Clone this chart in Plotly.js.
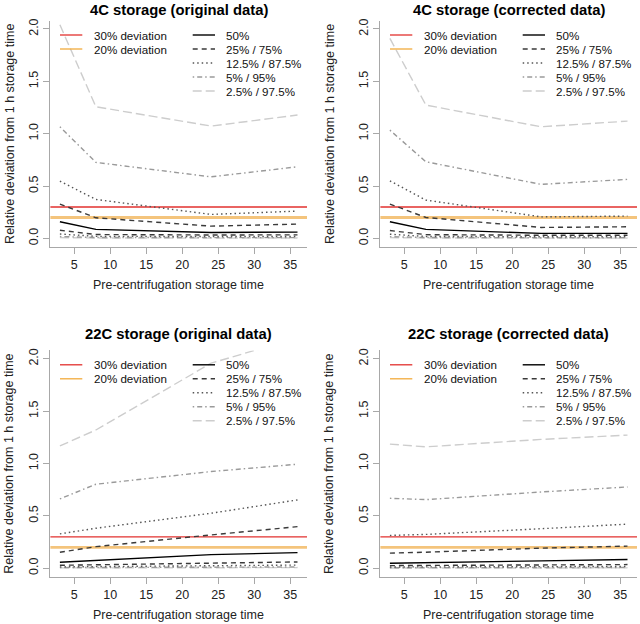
<!DOCTYPE html>
<html>
<head>
<meta charset="utf-8">
<script src="https://cdn.plot.ly/plotly-3.0.1.min.js"></script>
<style>
  body { margin: 0; background: #fff; }
  #chart { width: 640px; height: 624px; }
</style>
</head>
<body>
<div id="chart"></div>
<script>
// pre-centrifugation storage times (h)
const storageHours = [3, 8, 24, 36];

const panelTitles = [
    "4C storage (original data)", "4C storage (corrected data)",
    "22C storage (original data)", "22C storage (corrected data)"
];
const quantileLabels = ["50%", "25% / 75%", "12.5% / 87.5%", "5% / 95%", "2.5% / 97.5%"];
const refLabels = ["30% deviation", "20% deviation"];
const refLevels = [0.3, 0.2];

// 4C, original data
const c4orig_q500 = [0.159, 0.086, 0.057, 0.060];
const c4orig_q750 = [0.328, 0.197, 0.117, 0.137];
const c4orig_q875 = [0.547, 0.372, 0.229, 0.261];
const c4orig_q950 = [1.066, 0.726, 0.588, 0.684];
const c4orig_q975 = [2.040, 1.257, 1.073, 1.178];
const c4orig_q250 = [0.078, 0.037, 0.033, 0.034];
const c4orig_q125 = [0.042, 0.020, 0.018, 0.018];
const c4orig_q050 = [0.018, 0.009, 0.008, 0.008];
const c4orig_q025 = [0.008, 0.004, 0.003, 0.004];

// 4C, corrected data
const c4corr_q500 = [0.159, 0.086, 0.048, 0.048];
const c4corr_q750 = [0.328, 0.200, 0.105, 0.111];
const c4corr_q875 = [0.550, 0.366, 0.206, 0.213];
const c4corr_q950 = [1.034, 0.732, 0.516, 0.564];
const c4corr_q975 = [1.910, 1.273, 1.066, 1.120];
const c4corr_q250 = [0.075, 0.036, 0.030, 0.030];
const c4corr_q125 = [0.040, 0.019, 0.016, 0.016];
const c4corr_q050 = [0.017, 0.009, 0.007, 0.007];
const c4corr_q025 = [0.008, 0.004, 0.003, 0.003];

// 22C, original data
const c22orig_q500 = [0.057, 0.073, 0.130, 0.149];
const c22orig_q750 = [0.153, 0.206, 0.318, 0.397];
const c22orig_q875 = [0.328, 0.382, 0.525, 0.652];
const c22orig_q950 = [0.662, 0.802, 0.923, 0.993];
const c22orig_q975 = [1.168, 1.320, 1.958, 2.200];
const c22orig_q250 = [0.028, 0.032, 0.050, 0.060];
const c22orig_q125 = [0.013, 0.015, 0.025, 0.030];
const c22orig_q050 = [0.006, 0.007, 0.010, 0.012];
const c22orig_q025 = [0.003, 0.003, 0.005, 0.006];

// 22C, corrected data
const c22corr_q500 = [0.048, 0.052, 0.070, 0.083];
const c22corr_q750 = [0.144, 0.153, 0.192, 0.211];
const c22corr_q875 = [0.313, 0.323, 0.377, 0.421];
const c22corr_q950 = [0.668, 0.655, 0.728, 0.776];
const c22corr_q975 = [1.185, 1.159, 1.230, 1.271];
const c22corr_q250 = [0.025, 0.026, 0.030, 0.035];
const c22corr_q125 = [0.012, 0.012, 0.015, 0.017];
const c22corr_q050 = [0.005, 0.005, 0.006, 0.007];
const c22corr_q025 = [0.002, 0.002, 0.003, 0.003];

// upper / lower quantile per line style, per panel
const panelUpper = [
    [c4orig_q500, c4orig_q750, c4orig_q875, c4orig_q950, c4orig_q975],
    [c4corr_q500, c4corr_q750, c4corr_q875, c4corr_q950, c4corr_q975],
    [c22orig_q500, c22orig_q750, c22orig_q875, c22orig_q950, c22orig_q975],
    [c22corr_q500, c22corr_q750, c22corr_q875, c22corr_q950, c22corr_q975]
];
const panelLower = [
    [null, c4orig_q250, c4orig_q125, c4orig_q050, c4orig_q025],
    [null, c4corr_q250, c4corr_q125, c4corr_q050, c4corr_q025],
    [null, c22orig_q250, c22orig_q125, c22orig_q050, c22orig_q025],
    [null, c22corr_q250, c22corr_q125, c22corr_q050, c22corr_q025]
];

const lineColors = ["#000000", "#3a3a3a", "#555555", "#9a9a9a", "#cdcdcd"];
const lineDashes = ["solid", "5px,4px", "1.5px,3px", "1.5px,3px,5px,3px", "9px,4px"];
const refColors = ["#e2302e", "#f2aa3c"];
const refPlotColors = ["#e2302e", "#f4c47c"];

const FONT = "Liberation Sans, Arial, Helvetica, sans-serif";

// R style axis extension (4%)
const xMin = Math.min(...storageHours), xMax = Math.max(...storageHours);
const xPad = 0.04 * (xMax - xMin);
const xRange = [xMin - xPad, xMax + xPad];
const yRange = [-0.08, 2.08];

// panel layout in pixels: [left, top] of plot region, sizes, and text offsets
const W = 640, H = 624;
const plotW = 256.6, plotH = 226.2;
const panelBox = [[50.4, 20.6], [380.4, 20.6], [50.4, 350.4], [380.4, 350.4]];
const titleAbove = [10.6, 10.6, 16.6, 16.6];
const ytitleLeft = [41.2, 51, 41.2, 51];

let traces = [];
let shapes = [];
let annotations = [];
let layout = {
    width: W, height: H,
    margin: {l: 0, r: 0, t: 0, b: 0},
    paper_bgcolor: "#fff", plot_bgcolor: "#fff",
    showlegend: false,
    font: {family: FONT, size: 12.3, color: "#222"}
};

panelTitles.forEach((title, p) => {
    const s = p === 0 ? "" : String(p + 1);
    const [left, top] = panelBox[p];
    const xd = [left / W, (left + plotW) / W];
    const yd = [1 - (top + plotH) / H, 1 - top / H];

    layout["xaxis" + s] = {
        domain: xd, anchor: "y" + s, range: xRange,
        tickvals: [5, 10, 15, 20, 25, 30, 35],
        ticks: "outside", ticklen: 6, tickcolor: "#a8a8a8",
        showline: true, linecolor: "#a8a8a8", linewidth: 1,
        showgrid: false, zeroline: false,
        tickfont: {family: FONT, size: 12.5, color: "#222"}
    };
    layout["yaxis" + s] = {
        domain: yd, anchor: "x" + s, range: yRange,
        tickvals: [0, 0.5, 1, 1.5, 2], tickformat: ".1f", tickangle: -90,
        ticks: "outside", ticklen: 6, tickcolor: "#a8a8a8",
        showline: true, linecolor: "#a8a8a8", linewidth: 1,
        showgrid: false, zeroline: false,
        tickfont: {family: FONT, size: 12.5, color: "#222"}
    };

    // reference deviation lines
    refLevels.forEach((lvl, r) => {
        shapes.push({
            type: "line", layer: "below",
            xref: "x" + s + " domain", yref: "y" + s,
            x0: 0, x1: 1, y0: lvl, y1: lvl,
            line: {color: refPlotColors[r], width: r === 0 ? 1.3 : 2.8}
        });
    });

    // quantile lines, widest band first
    for (let k = 4; k >= 0; k--) {
        [panelUpper[p][k], panelLower[p][k]].forEach(vals => {
            if (!vals) return;
            traces.push({
                x: storageHours, y: vals,
                xaxis: "x" + s, yaxis: "y" + s,
                type: "scatter", mode: "lines",
                line: {color: lineColors[k], dash: lineDashes[k], width: 1.4},
                hoverinfo: "skip"
            });
        });
    }

    // panel texts
    const ax = "x" + s + " domain", ay = "y" + s + " domain";
    annotations.push({
        text: "<b>" + title + "</b>", xref: ax, yref: ay,
        x: 0.5, y: 1 + titleAbove[p] / plotH, showarrow: false,
        xanchor: "center", yanchor: "middle",
        font: {family: FONT, size: 14.8, color: "#000"}
    });
    annotations.push({
        text: "Pre-centrifugation storage time", xref: ax, yref: ay,
        x: 0.5, y: -38 / plotH, showarrow: false,
        xanchor: "center", yanchor: "middle",
        font: {family: FONT, size: 12.5, color: "#222"}
    });
    annotations.push({
        text: "Relative deviation from 1 h storage time", xref: ax, yref: ay,
        x: -ytitleLeft[p] / plotW, y: 0.5, showarrow: false, textangle: -90,
        xanchor: "center", yanchor: "middle",
        font: {family: FONT, size: 12.5, color: "#222"}
    });

    // legend, two columns
    const rowY = i => 1 - (14.4 + 14 * i) / plotH;
    const legItem = (x0, x1, xt, i, label, color, dash, width) => {
        shapes.push({
            type: "line", xref: ax, yref: ay,
            x0: x0 / plotW, x1: x1 / plotW, y0: rowY(i), y1: rowY(i),
            line: {color: color, dash: dash, width: width}
        });
        annotations.push({
            text: label, xref: ax, yref: ay, x: xt / plotW, y: rowY(i),
            showarrow: false, xanchor: "left", yanchor: "middle",
            font: {family: FONT, size: 11.6, color: "#111"}
        });
    };
    refLabels.forEach((lab, r) => legItem(9.6, 31.9, 41.5, r, lab, refColors[r], "solid", 1.3));
    quantileLabels.forEach((lab, k) => legItem(142.3, 164.6, 173.8, k, lab, lineColors[k], lineDashes[k], 1.4));
});

layout.shapes = shapes;
layout.annotations = annotations;

Plotly.newPlot("chart", traces, layout, {displayModeBar: false, staticPlot: true});
</script>
</body>
</html>
